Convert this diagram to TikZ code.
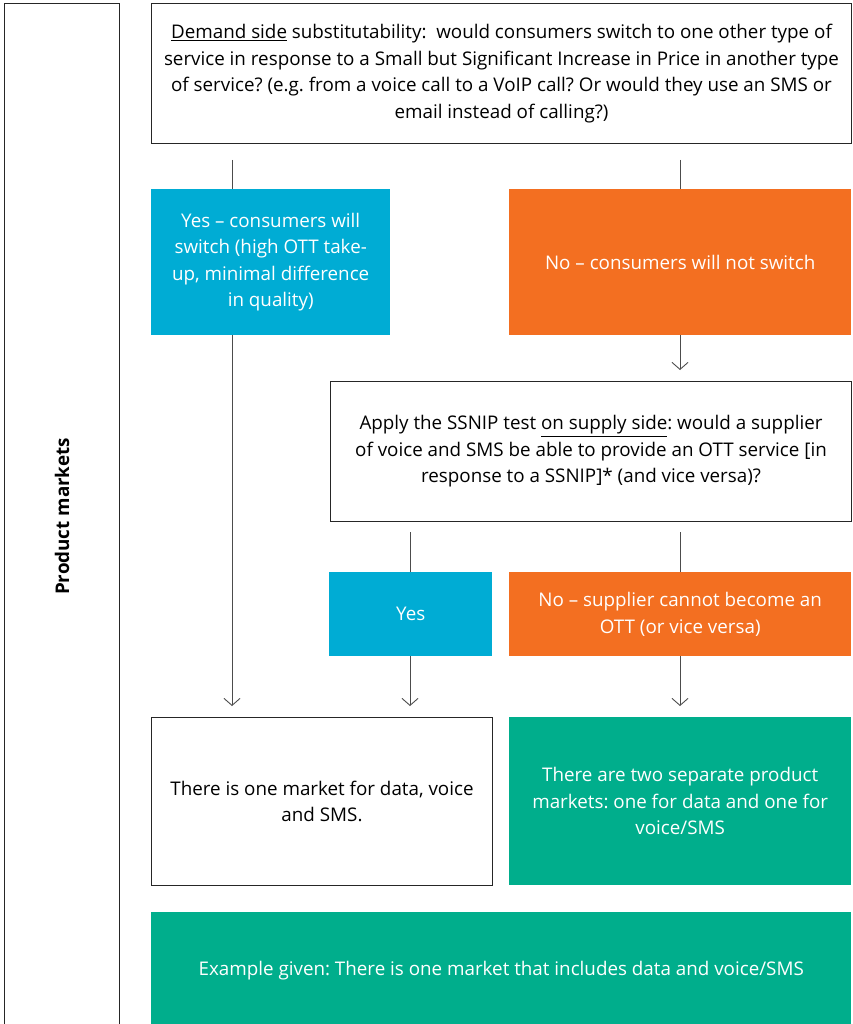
\documentclass[tikz,border=0pt]{standalone}
\usepackage{fontspec}
\setmainfont{Open Sans}
\usetikzlibrary{arrows.meta}
\definecolor{ottbleu}{HTML}{00ACD4}
\definecolor{ottorange}{HTML}{F36F21}
\definecolor{ottvert}{HTML}{00AE8C}
\frenchspacing
\begin{document}
\begin{tikzpicture}[x=1pt, y=-1pt]

    % Styles des noeuds
    \tikzstyle{cadre} = [rectangle, anchor=north west, inner sep=0pt, align=center, font=\fontsize{18.8}{26.6}\selectfont]
    \tikzstyle{question} = [cadre, draw=black!85, line width=1pt, fill=white]
    \tikzstyle{oui} = [cadre, fill=ottbleu, text=white]
    \tikzstyle{non} = [cadre, fill=ottorange, text=white]
    \tikzstyle{resultat} = [cadre, fill=ottvert, text=white]
    \tikzstyle{ligne} = [draw=black!70, line width=0.9pt]
    \tikzstyle{arrow} = [ligne, -{Straight Barb[length=7pt, width=16pt]}, shorten >=11pt]

    \useasboundingbox (0,0) rectangle (852,1024);

    % Noeuds
    \node (marches) [question, minimum width=115pt, minimum height=1026pt] at (4,3) {\rotatebox{90}{\bfseries Product markets}};
    \node (demande) [question, minimum width=700pt, minimum height=140pt] at (151,3) {\underline{Demand side} substitutability:~ would consumers switch to one other type of\\ service in response to a Small but Significant Increase in Price in another type\\ of service? (e.g. from a voice call to a VoIP call? Or would they use an SMS or\\ email instead of calling?)};
    \node (oui1) [oui, minimum width=239pt, minimum height=146pt] at (151,189) {Yes – consumers will\\ switch (high OTT take-\\ up, minimal difference\\ in quality)};
    \node (non1) [non, minimum width=342pt, minimum height=146pt] at (509,189) {No – consumers will not switch};
    \node (ssnip) [question, minimum width=521pt, minimum height=140pt] at (330,381) {Apply the SSNIP test \underline{on supply side}: would a supplier\\ of voice and SMS be able to provide an OTT service [in\\ response to a SSNIP]* (and vice versa)?};
    \node (oui2) [oui, minimum width=163pt, minimum height=84pt] at (329,572) {Yes};
    \node (non2) [non, minimum width=342pt, minimum height=84pt] at (509,572) {No – supplier cannot become an\\ OTT (or vice versa)};
    \node (un) [question, minimum width=341pt, minimum height=168pt] at (151,717) {There is one market for data, voice\\ and SMS.};
    \node (deux) [resultat, minimum width=342pt, minimum height=168pt] at (509,717) {There are two separate product\\ markets: one for data and one for\\ voice/SMS};
    \node (exemple) [resultat, minimum width=700pt, minimum height=116pt] at (151,912) {Example given: There is one market that includes data and voice/SMS};

    % Points de depart
    \coordinate (d1) at (232,160);
    \coordinate (d2) at (680,160);
    \coordinate (s1) at (410,532);
    \coordinate (s2) at (680,532);

    % Fleches
    \draw [ligne] (d1) -- (d1 |- oui1.north);
    \draw [ligne] (d2) -- (d2 |- non1.north);
    \draw [arrow] (oui1.south -| d1) -- (un.north -| d1);
    \draw [arrow] (non1.south -| d2) -- (ssnip.north -| d2);
    \draw [ligne] (s1) -- (s1 |- oui2.north);
    \draw [ligne] (s2) -- (s2 |- non2.north);
    \draw [arrow] (oui2.south -| s1) -- (un.north -| s1);
    \draw [arrow] (non2.south -| s2) -- (deux.north -| s2);

\end{tikzpicture}
\end{document}
